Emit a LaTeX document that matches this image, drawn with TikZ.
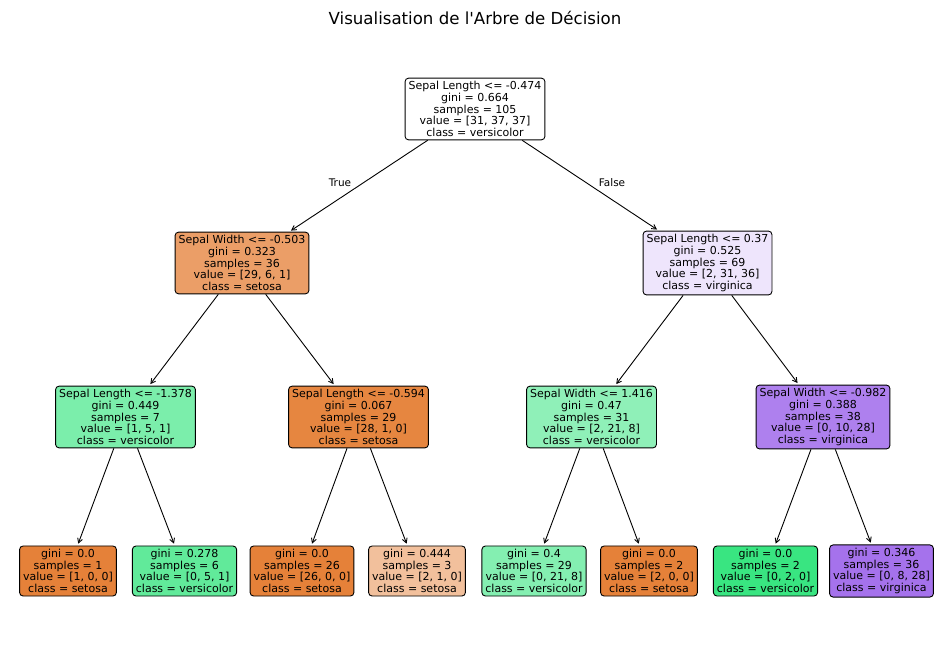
\documentclass[tikz,border=0pt]{standalone}
\usepackage{fontspec}
\setmainfont{DejaVu Sans}
\newfontfamily\plainfont{DejaVu Sans}
\usetikzlibrary{arrows.meta}
\definecolor{cRoot}{RGB}{255,255,255}
\definecolor{cA}{RGB}{235,158,103}
\definecolor{cB}{RGB}{238,229,252}
\definecolor{cC}{RGB}{123,238,171}
\definecolor{cD}{RGB}{230,134,64}
\definecolor{cE}{RGB}{143,240,184}
\definecolor{cF}{RGB}{174,128,238}
\definecolor{cSet}{RGB}{229,129,57}
\definecolor{cL2}{RGB}{97,234,154}
\definecolor{cL4}{RGB}{242,192,156}
\definecolor{cL5}{RGB}{132,239,177}
\definecolor{cVer}{RGB}{57,229,129}
\definecolor{cL8}{RGB}{165,114,236}
\tikzset{
  treenode/.style={draw=black, line width=0.9pt, rounded corners=3.5pt, align=center,
    inner xsep=3.5pt, inner ysep=3.2pt, font=\fontsize{11}{11.7}\selectfont, text=black},
  edge/.style={draw=black, line width=0.9pt, -{Straight Barb[length=4.5pt,width=5pt]}, shorten >=2pt},
  lbl/.style={font=\fontsize{10.5}{12}\selectfont, text=black}
}
\begin{document}
\begin{tikzpicture}[x=1pt,y=-1pt]
\useasboundingbox (0,0) rectangle (950,658);
\node[font=\plainfont\fontsize{16.6}{20}\selectfont] (title) at (475,18) {Visualisation de l'Arbre de Décision};

\node[treenode, fill=cRoot] (r) at (475,109) {Sepal Length <= -0.474\\gini = 0.664\\samples = 105\\value = [31, 37, 37]\\class = versicolor};

\node[treenode, fill=cA] (a) at (242,263) {Sepal Width <= -0.503\\gini = 0.323\\samples = 36\\value = [29, 6, 1]\\class = setosa};
\node[treenode, fill=cB] (b) at (707.5,263) {Sepal Length <= 0.37\\gini = 0.525\\samples = 69\\value = [2, 31, 36]\\class = virginica};

\node[treenode, fill=cC] (c) at (125.5,417) {Sepal Length <= -1.378\\gini = 0.449\\samples = 7\\value = [1, 5, 1]\\class = versicolor};
\node[treenode, fill=cD] (d) at (358.5,417) {Sepal Length <= -0.594\\gini = 0.067\\samples = 29\\value = [28, 1, 0]\\class = setosa};
\node[treenode, fill=cE] (e) at (591.5,417) {Sepal Width <= 1.416\\gini = 0.47\\samples = 31\\value = [2, 21, 8]\\class = versicolor};
\node[treenode, fill=cF] (f) at (823,417) {Sepal Width <= -0.982\\gini = 0.388\\samples = 38\\value = [0, 10, 28]\\class = virginica};

\node[treenode, fill=cSet] (l1) at (68,571) {gini = 0.0\\samples = 1\\value = [1, 0, 0]\\class = setosa};
\node[treenode, fill=cL2] (l2) at (184.5,571) {gini = 0.278\\samples = 6\\value = [0, 5, 1]\\class = versicolor};
\node[treenode, fill=cSet] (l3) at (302,571) {gini = 0.0\\samples = 26\\value = [26, 0, 0]\\class = setosa};
\node[treenode, fill=cL4] (l4) at (417,571) {gini = 0.444\\samples = 3\\value = [2, 1, 0]\\class = setosa};
\node[treenode, fill=cL5] (l5) at (534,571) {gini = 0.4\\samples = 29\\value = [0, 21, 8]\\class = versicolor};
\node[treenode, fill=cSet] (l6) at (649,571) {gini = 0.0\\samples = 2\\value = [2, 0, 0]\\class = setosa};
\node[treenode, fill=cVer] (l7) at (765.5,571) {gini = 0.0\\samples = 2\\value = [0, 2, 0]\\class = versicolor};
\node[treenode, fill=cL8] (l8) at (881.5,571) {gini = 0.346\\samples = 36\\value = [0, 8, 28]\\class = virginica};

\draw[edge] (r) -- (a);
\draw[edge] (r) -- (b);
\draw[edge] (a) -- (c);
\draw[edge] (a) -- (d);
\draw[edge] (b) -- (e);
\draw[edge] (b) -- (f);
\draw[edge] (c) -- (l1);
\draw[edge] (c) -- (l2);
\draw[edge] (d) -- (l3);
\draw[edge] (d) -- (l4);
\draw[edge] (e) -- (l5);
\draw[edge] (e) -- (l6);
\draw[edge] (f) -- (l7);
\draw[edge] (f) -- (l8);

\node[lbl] (t) at (340,183) {True};
\node[lbl] (fl) at (612,183) {False};
\end{tikzpicture}
\end{document}
